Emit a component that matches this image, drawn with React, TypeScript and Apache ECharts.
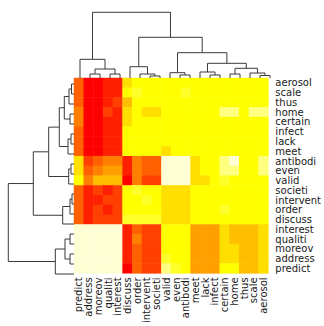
import React, { useEffect, useRef } from "react";
import * as echarts from "echarts";

// Column order (left to right) of the heatmap
const colNames = [
  "predict", "address", "moreov", "qualiti", "interest",
  "discuss", "order", "intervent", "societi",
  "valid", "even", "antibodi",
  "meet", "lack", "infect", "certain", "home", "thus", "scale", "aerosol",
];
// Row order (top to bottom)
const rowNames = [
  "aerosol", "scale", "thus", "home", "certain", "infect", "lack", "meet",
  "antibodi", "even", "valid",
  "societi", "intervent", "order", "discuss",
  "interest", "qualiti", "moreov", "address", "predict",
];

// heat.colors(12)
const palette = [
  "#FF0000", "#FF2000", "#FF4000", "#FF6000", "#FF8000", "#FF9F00",
  "#FFBF00", "#FFDF00", "#FFFF00", "#FFFF2A", "#FFFF80", "#FFFFD5",
];

// Colour level (0..11) of each cell, rows top to bottom, columns left to right
const rowAerosol = [3, 0, 0, 1, 1, 7, 8, 8, 8, 8, 8, 8, 8, 8, 8, 8, 8, 8, 8, 8];
const rowScale = [3, 0, 0, 1, 1, 8, 9, 8, 8, 8, 8, 9, 8, 8, 8, 8, 8, 8, 8, 8];
const rowThus = [3, 0, 0, 1, 2, 6, 8, 8, 8, 8, 8, 8, 8, 8, 8, 8, 8, 8, 8, 8];
const rowHome = [4, 0, 0, 2, 1, 7, 8, 7, 7, 8, 8, 8, 8, 8, 8, 10, 10, 8, 10, 10];
const rowCertain = [4, 0, 0, 1, 1, 7, 8, 8, 8, 8, 8, 8, 8, 8, 8, 8, 8, 8, 8, 8];
const rowInfect = [3, 0, 0, 1, 1, 8, 8, 8, 8, 8, 8, 8, 8, 8, 8, 8, 8, 8, 8, 8];
const rowLack = [3, 0, 0, 1, 1, 8, 8, 8, 8, 8, 8, 8, 8, 8, 8, 8, 8, 8, 8, 8];
const rowMeet = [3, 0, 0, 1, 1, 8, 8, 8, 8, 7, 8, 8, 8, 8, 8, 8, 8, 8, 8, 8];
const rowAntibodi = [7, 2, 3, 4, 4, 1, 4, 3, 3, 11, 11, 11, 7, 8, 8, 10, 11, 8, 8, 10];
const rowEven = [7, 3, 4, 5, 5, 1, 4, 3, 3, 11, 11, 11, 7, 8, 8, 10, 10, 8, 8, 10];
const rowValid = [8, 4, 6, 6, 6, 0, 4, 2, 2, 11, 11, 11, 7, 7, 8, 9, 8, 8, 8, 8];
const rowSocieti = [3, 1, 2, 1, 2, 8, 9, 8, 8, 7, 7, 7, 8, 8, 8, 8, 8, 8, 8, 8];
const rowIntervent = [3, 1, 1, 2, 2, 8, 8, 9, 8, 7, 7, 7, 8, 8, 8, 8, 8, 8, 8, 8];
const rowOrder = [3, 1, 2, 1, 2, 8, 8, 8, 8, 7, 7, 7, 8, 8, 8, 9, 8, 8, 8, 8];
const rowDiscuss = [3, 1, 2, 2, 2, 9, 9, 9, 9, 7, 7, 7, 8, 8, 8, 8, 8, 8, 8, 8];
const rowInterest = [11, 11, 11, 11, 11, 1, 3, 2, 2, 8, 8, 8, 5, 5, 5, 7, 6, 6, 6, 7];
const rowQualiti = [11, 11, 11, 11, 11, 1, 4, 2, 2, 8, 8, 8, 5, 5, 5, 7, 6, 6, 6, 7];
const rowMoreov = [11, 11, 11, 11, 11, 1, 3, 2, 2, 8, 8, 8, 5, 5, 5, 7, 7, 6, 6, 7];
const rowAddress = [11, 11, 11, 11, 11, 1, 3, 2, 2, 9, 8, 8, 5, 5, 5, 7, 7, 6, 6, 7];
const rowPredict = [11, 11, 11, 11, 11, 0, 3, 2, 2, 10, 9, 8, 5, 5, 5, 8, 8, 6, 6, 7];

const matrix = [
  rowAerosol, rowScale, rowThus, rowHome, rowCertain, rowInfect, rowLack, rowMeet,
  rowAntibodi, rowEven, rowValid,
  rowSocieti, rowIntervent, rowOrder, rowDiscuss,
  rowInterest, rowQualiti, rowMoreov, rowAddress, rowPredict,
];

// Dendrogram merges over column leaves (ids 0..19); merged node ids start at 20.
// [left, right, height]
const merges: [number, number, number][] = [
  [1, 2, 4],      // 20 address+moreov
  [3, 4, 4],      // 21 qualiti+interest
  [20, 21, 9],    // 22
  [0, 22, 18.7],  // 23
  [7, 8, 2],      // 24 intervent+societi
  [6, 24, 4],     // 25
  [5, 25, 11.3],  // 26
  [10, 11, 3],    // 27 even+antibodi
  [9, 27, 5.3],   // 28
  [13, 14, 3],    // 29 lack+infect
  [12, 29, 6],    // 30
  [15, 16, 4],    // 31 certain+home
  [18, 19, 2.5],  // 32 scale+aerosol
  [17, 32, 5],    // 33
  [31, 33, 9.7],  // 34
  [30, 34, 14.7], // 35
  [28, 35, 25.3], // 36
  [26, 36, 40.7], // 37
  [23, 37, 65.7], // 38
];

function dendroSegments() {
  const pos: number[] = [];
  const hgt: number[] = [];
  for (let i = 0; i < colNames.length; i++) {
    pos[i] = i + 0.5;
    hgt[i] = 0;
  }
  const segs: { l: number; r: number; h: number; hl: number; hr: number }[] = [];
  merges.forEach(([a, b, h], k) => {
    const id = colNames.length + k;
    pos[id] = (pos[a] + pos[b]) / 2;
    hgt[id] = h;
    segs.push({ l: pos[a], r: pos[b], h, hl: hgt[a], hr: hgt[b] });
  });
  return segs;
}

export default function App() {
  const ref = useRef<HTMLDivElement>(null);
  useEffect(() => {
    if (!ref.current) return;
    const chart = echarts.init(ref.current, undefined, { renderer: "svg" });
    const heatData: number[][] = [];
    matrix.forEach((row, r) => {
      row.forEach((v, c) => heatData.push([c, r, v]));
    });
    const segs = dendroSegments();
    const topLines = segs.map((s) => ({
      coords: [[s.l, s.hl], [s.l, s.h], [s.r, s.h], [s.r, s.hr]],
    }));
    const leftLines = segs.map((s) => ({
      coords: [[s.hl, s.l], [s.h, s.l], [s.h, s.r], [s.hr, s.r]],
    }));
    const font = "DejaVu Sans";
    const lineStyle = { color: "#3a3a3a", width: 1, opacity: 1 };
    chart.setOption({
      animation: false,
      backgroundColor: "#ffffff",
      grid: [
        { left: 74, top: 78, width: 200, height: 200 },
        { left: 75, top: 0, width: 200, height: 78 },
        { left: 0, top: 79, width: 74, height: 200 },
      ],
      xAxis: [
        {
          type: "category",
          gridIndex: 0,
          data: colNames,
          position: "bottom",
          axisLine: { show: false },
          axisTick: { show: false },
          splitLine: { show: false },
          axisLabel: {
            rotate: 90,
            interval: 0,
            margin: 4,
            fontSize: 10,
            lineHeight: 9,
            fontFamily: font,
            color: "#1a1a1a",
          },
        },
        { type: "value", gridIndex: 1, min: 0, max: 20, show: false },
        { type: "value", gridIndex: 2, min: 0, max: 74, inverse: true, show: false },
      ],
      yAxis: [
        {
          type: "category",
          gridIndex: 0,
          data: rowNames,
          inverse: true,
          position: "right",
          axisLine: { show: false },
          axisTick: { show: false },
          splitLine: { show: false },
          axisLabel: {
            interval: 0,
            margin: 7,
            fontSize: 10,
            lineHeight: 9,
            fontFamily: font,
            color: "#1a1a1a",
          },
        },
        { type: "value", gridIndex: 1, min: 0, max: 78, show: false },
        { type: "value", gridIndex: 2, min: 0, max: 20, show: false },
      ],
      visualMap: {
        type: "piecewise",
        show: false,
        seriesIndex: 0,
        pieces: palette.map((c, i) => ({ value: i, color: c })),
      },
      series: [
        {
          type: "heatmap",
          xAxisIndex: 0,
          yAxisIndex: 0,
          data: heatData,
          itemStyle: { borderWidth: 0 },
          silent: true,
        },
        {
          type: "lines",
          coordinateSystem: "cartesian2d",
          xAxisIndex: 1,
          yAxisIndex: 1,
          polyline: true,
          data: topLines,
          lineStyle,
          silent: true,
        },
        {
          type: "lines",
          coordinateSystem: "cartesian2d",
          xAxisIndex: 2,
          yAxisIndex: 2,
          polyline: true,
          data: leftLines,
          lineStyle,
          silent: true,
        },
      ],
    });
    return () => chart.dispose();
  }, []);
  return (
    <div
      ref={ref}
      style={{ position: "fixed", left: 0, top: 0, width: 324, height: 326 }}
    />
  );
}
